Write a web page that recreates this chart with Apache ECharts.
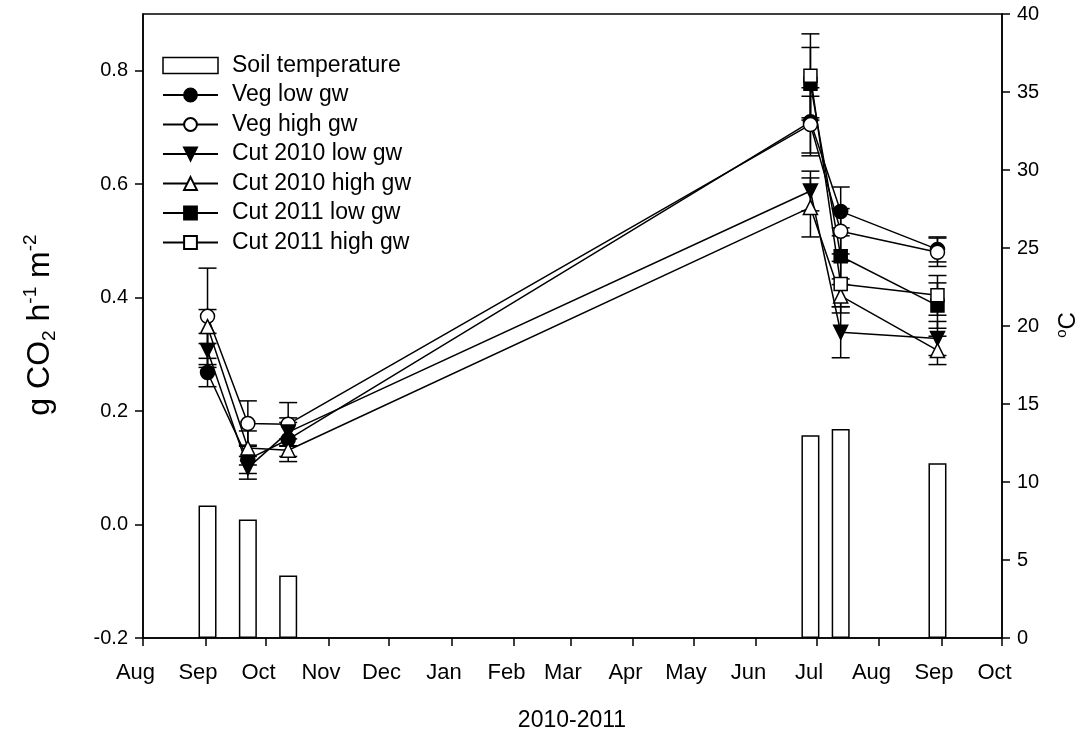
<!DOCTYPE html>
<html>
<head>
<meta charset="utf-8">
<script src="https://cdn.jsdelivr.net/npm/echarts@6/dist/echarts.min.js"></script>
<style>html,body{margin:0;padding:0;background:#fff}#c{width:1090px;height:742px}</style>
</head>
<body>
<div id="c"></div>
<script>
// ---- data ----
const monthTickDates = ['2010-08-01','2010-09-01','2010-10-01','2010-11-01','2010-12-01','2011-01-01','2011-02-01','2011-03-01','2011-04-01','2011-05-01','2011-06-01','2011-07-01','2011-08-01','2011-09-01','2011-10-01'];
const monthLabels = ['Aug','Sep','Oct','Nov','Dec','Jan','Feb','Mar','Apr','May','Jun','Jul','Aug','Sep','Oct'];
const leftTicks = [-0.2, 0.0, 0.2, 0.4, 0.6, 0.8];
const rightTicks = [0, 5, 10, 15, 20, 25, 30, 35, 40];

const datesAll = ['2010-09-02','2010-09-22','2010-10-12','2011-06-28','2011-07-13','2011-08-30'];
const dates2011 = ['2011-06-28','2011-07-13','2011-08-30'];

const soilTemp = [8.5, 7.6, 4.0, 13.0, 13.4, 11.2];

const vegLow = [0.268, 0.115, 0.150, 0.710, 0.552, 0.485];
const vegLowErr = [0.025, 0.025, 0.030, 0.060, 0.043, 0.022];
const vegHigh = [0.367, 0.178, 0.177, 0.705, 0.517, 0.480];
const vegHighErr = [0.085, 0.040, 0.038, 0.050, 0.040, 0.025];
const cut10Low = [0.307, 0.100, 0.163, 0.588, 0.339, 0.328];
const cut10LowErr = [0.030, 0.020, 0.025, 0.035, 0.045, 0.030];
const cut10High = [0.349, 0.135, 0.131, 0.559, 0.403, 0.307];
const cut10HighErr = [0.030, 0.030, 0.020, 0.052, 0.030, 0.025];
const cut11Low = [0.777, 0.473, 0.386];
const cut11LowErr = [0.064, 0.050, 0.040];
const cut11High = [0.791, 0.424, 0.404];
const cut11HighErr = [0.074, 0.040, 0.035];

// ---- helpers ----
const ts = s => { const p = s.split('-').map(Number); return Date.UTC(p[0], p[1]-1, p[2]); };
const monthTs = monthTickDates.map(ts);
const FONT = '"Liberation Sans", Arial, sans-serif';

function pts(dates, vals){ return dates.map((d,i)=>[ts(d), vals[i]]); }
function errPts(dates, vals, errs){ return dates.map((d,i)=>[ts(d), vals[i], errs[i]]); }

function renderErr(params, api){
  const x = api.value(0), y = api.value(1), e = api.value(2);
  const t = api.coord([x, y + e]);
  const b = api.coord([x, y - e]);
  const hw = 9;
  const st = {stroke:'#000', lineWidth:1.5};
  return {type:'group', children:[
    {type:'line', shape:{x1:t[0], y1:t[1], x2:b[0], y2:b[1]}, style:st},
    {type:'line', shape:{x1:t[0]-hw, y1:t[1], x2:t[0]+hw, y2:t[1]}, style:st},
    {type:'line', shape:{x1:b[0]-hw, y1:b[1], x2:b[0]+hw, y2:b[1]}, style:st}
  ]};
}

function lineSeries(name, dates, vals, symbol, filled, rotate){
  return {
    name, type:'line', xAxisIndex:0, yAxisIndex:0,
    data: pts(dates, vals),
    symbol, symbolSize: symbol === 'rect' ? 13 : 14, symbolRotate: rotate || 0,
    showAllSymbol: true,
    lineStyle:{color:'#000', width:1.5},
    itemStyle:{color: filled ? '#000' : '#fff', borderColor:'#000', borderWidth:1.5},
    z: 5, animation:false
  };
}
function errSeries(name, dates, vals, errs){
  return {
    name: name + ' err', type:'custom', xAxisIndex:0, yAxisIndex:0,
    data: errPts(dates, vals, errs), encode:{x:0, y:1},
    renderItem: renderErr, z: 4, silent:true, animation:false
  };
}

const chart = echarts.init(document.getElementById('c'), null, {renderer:'canvas'});
const option = {
  backgroundColor:'#fff',
  animation:false,
  textStyle:{fontFamily:FONT, color:'#000'},
  grid:{left:143, right:88, top:14, bottom:104, show:true, borderColor:'#000', borderWidth:1.5, backgroundColor:'transparent'},
  legend:{
    orient:'vertical', left:162, top:54, padding:0, itemWidth:55, itemHeight:16, itemGap:6.5,
    textStyle:{fontFamily:FONT, fontSize:23, color:'#000', padding:[0,0,0,9]},
    data:[
      {name:'Soil temperature', icon:'rect', itemStyle:{borderWidth:1.5}},
      'Veg low gw','Veg high gw','Cut 2010 low gw','Cut 2010 high gw','Cut 2011 low gw','Cut 2011 high gw'
    ],
    selectedMode:false
  },
  xAxis:{
    type:'value', min: monthTs[0], max: monthTs[monthTs.length-1],
    axisLine:{onZero:false, lineStyle:{color:'#000', width:1.5}},
    axisTick:{show:true, length:8, lineStyle:{color:'#000', width:1.5}, customValues: monthTs},
    axisLabel:{customValues: monthTs, fontFamily:FONT, fontSize:22, color:'#000', margin:24, padding:[0,15,0,0],
      showMinLabel:true, showMaxLabel:true,
      formatter: v => { const i = monthTs.indexOf(v); return i >= 0 ? monthLabels[i] : ''; }},
    splitLine:{show:false}
  },
  yAxis:[
    {type:'value', min:-0.2, max:0.9, position:'left',
     axisLine:{show:true, lineStyle:{color:'#000', width:1.5}},
     axisTick:{show:true, length:8, lineStyle:{color:'#000', width:1.5}, customValues: leftTicks},
     axisLabel:{customValues: leftTicks, fontFamily:FONT, fontSize:20, color:'#000', margin:15,
       formatter: v => v.toFixed(1)},
     splitLine:{show:false}},
    {type:'value', min:0, max:40, interval:5, position:'right',
     axisLine:{show:true, lineStyle:{color:'#000', width:1.5}},
     axisTick:{show:true, length:8, lineStyle:{color:'#000', width:1.5}},
     axisLabel:{fontFamily:FONT, fontSize:20, color:'#000', margin:15},
     splitLine:{show:false}}
  ],
  graphic:[
    {type:'text', x:40, y:325, rotation:Math.PI/2,
     style:{text:'{n|g CO}{sub|2}{n| h}{sup|-1}{n| m}{sup|-2}', align:'center', verticalAlign:'middle',
       rich:{n:{fontFamily:FONT, fontSize:32, lineHeight:38, fill:'#000'},
             sub:{fontFamily:FONT, fontSize:19, verticalAlign:'bottom', fill:'#000'},
             sup:{fontFamily:FONT, fontSize:19, verticalAlign:'top', fill:'#000'}}}},
    {type:'text', x:572, y:721,
     style:{text:'2010-2011', fontFamily:FONT, fontSize:23, fill:'#000', align:'center', verticalAlign:'middle'}},
    {type:'text', x:1068, y:325, rotation:Math.PI/2,
     style:{text:'{sup|o}{n|C}', align:'center', verticalAlign:'middle',
       rich:{n:{fontFamily:FONT, fontSize:24, lineHeight:28, fill:'#000'},
             sup:{fontFamily:FONT, fontSize:15, verticalAlign:'top', fill:'#000'}}}}
  ],
  series:[
    {name:'Soil temperature', type:'bar', xAxisIndex:0, yAxisIndex:1, data: pts(datesAll, soilTemp),
     barWidth:18, itemStyle:{color:'#fff', borderColor:'#000', borderWidth:1.5}, z:2, animation:false},
    errSeries('Veg low gw', datesAll, vegLow, vegLowErr),
    errSeries('Veg high gw', datesAll, vegHigh, vegHighErr),
    errSeries('Cut 2010 low gw', datesAll, cut10Low, cut10LowErr),
    errSeries('Cut 2010 high gw', datesAll, cut10High, cut10HighErr),
    errSeries('Cut 2011 low gw', dates2011, cut11Low, cut11LowErr),
    errSeries('Cut 2011 high gw', dates2011, cut11High, cut11HighErr),
    lineSeries('Veg low gw', datesAll, vegLow, 'circle', true),
    lineSeries('Veg high gw', datesAll, vegHigh, 'circle', false),
    lineSeries('Cut 2010 low gw', datesAll, cut10Low, 'triangle', true, 180),
    lineSeries('Cut 2010 high gw', datesAll, cut10High, 'triangle', false),
    lineSeries('Cut 2011 low gw', dates2011, cut11Low, 'rect', true),
    lineSeries('Cut 2011 high gw', dates2011, cut11High, 'rect', false)
  ]
};
chart.setOption(option);
</script>
</body>
</html>
